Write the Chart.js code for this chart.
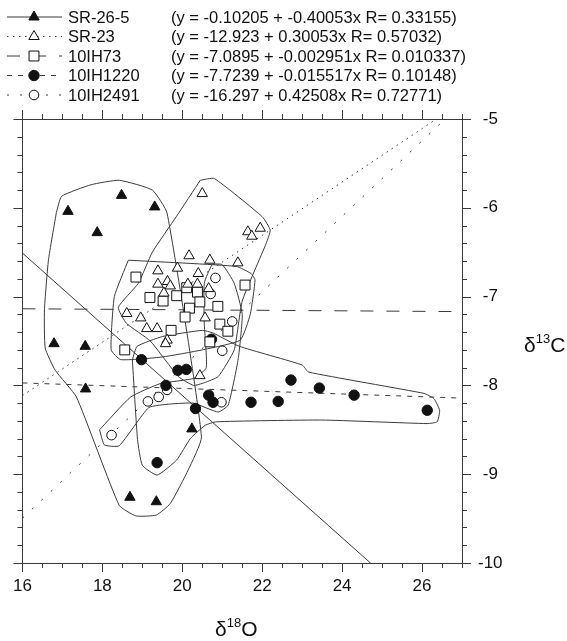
<!DOCTYPE html>
<html>
<head>
<meta charset="utf-8">
<script src="https://cdn.jsdelivr.net/npm/chart.js@4/dist/chart.umd.min.js"></script>
<style>
  html, body { margin: 0; padding: 0; background: #fff; }
  #plot { display: block; }
</style>
</head>
<body>
<canvas id="plot" width="567" height="641"></canvas>
<script>
// --- Data (x = d18O, y = d13C) ---
const seriesNames = ["SR-26-5", "SR-23", "10IH73", "10IH1220", "10IH2491"];
const equations = [
    "(y = -0.10205 + -0.40053x R= 0.33155)",
    "(y = -12.923 + 0.30053x R= 0.57032)",
    "(y = -7.0895 + -0.002951x R= 0.010337)",
    "(y = -7.7239 + -0.015517x R= 0.10148)",
    "(y = -16.297 + 0.42508x R= 0.72771)"
];

const sr265X = [17.14, 18.48, 19.31, 17.87, 16.79, 17.57, 17.58, 20.24, 18.69, 19.35];
const sr265Y = [-6.04, -5.86, -5.99, -6.28, -7.53, -7.56, -8.04, -8.49, -9.26, -9.31];

const sr23X = [20.50, 21.64, 21.74, 21.95, 20.17, 20.69, 21.39, 19.39, 19.88, 20.40, 19.39, 19.63, 19.70,
               20.14, 20.38, 20.66, 19.54, 18.61, 18.96, 19.11, 19.37, 20.57, 19.62, 19.58, 20.44];
const sr23Y = [-5.84, -6.27, -6.32, -6.23, -6.54, -6.59, -6.62, -6.71, -6.68, -6.74, -6.86, -6.83, -6.88,
               -6.86, -6.86, -6.91, -6.96, -7.19, -7.24, -7.36, -7.36, -7.24, -7.49, -7.53, -7.89];

const ih73X = [18.84, 21.57, 20.11, 19.19, 19.52, 19.86, 20.38, 20.44, 20.18, 20.89, 20.07, 20.94, 21.14, 19.72, 20.69, 18.56];
const ih73Y = [-6.78, -6.87, -6.90, -7.01, -7.05, -6.99, -6.95, -7.06, -7.13, -7.11, -7.23, -7.31, -7.39, -7.38, -7.51, -7.60];

const ih1220X = [20.73, 18.98, 19.89, 20.10, 19.59, 20.66, 20.77, 20.33, 21.72, 22.40, 22.72, 23.43, 24.30, 26.13, 19.37];
const ih1220Y = [-7.48, -7.71, -7.83, -7.82, -8.00, -8.11, -8.19, -8.26, -8.19, -8.18, -7.94, -8.03, -8.11, -8.28, -8.87];

const ih2491X = [20.83, 20.71, 21.25, 21.00, 19.62, 19.41, 19.14, 20.98, 18.23];
const ih2491Y = [-6.79, -6.97, -7.28, -7.61, -8.05, -8.13, -8.18, -8.19, -8.56];

// fitted lines, end points as drawn
const fitSR265 = [[16, -6.510], [24.71, -10]];
const fitSR23 = [[16, -8.115], [26.36, -5]];
const fitIH73 = [[16, -7.137], [27, -7.169]];
const fitIH1220 = [[16, -7.972], [27, -8.143]];
const fitIH2491 = [[16, -9.496], [26.58, -5]];

// hand drawn group outlines
const hullSR265 = [[16.85, -6.05], [16.98, -5.87], [17.72, -5.74], [18.42, -5.69], [19.25, -5.80], [19.62, -6.06],
    [20.48, -8.58], [20.15, -8.95], [19.70, -9.33], [19.35, -9.46], [18.84, -9.47], [18.42, -9.35], [17.35, -8.13],
    [16.82, -7.83], [16.57, -7.58], [16.55, -7.15], [16.65, -6.59], [16.85, -6.05]];
const hullSR23 = [[20.45, -5.69], [20.80, -5.67], [22.00, -6.10], [22.20, -6.25], [22.10, -6.40], [21.50, -7.05],
    [21.30, -7.60], [20.90, -7.90], [20.55, -7.97], [20.28, -8.00], [19.90, -7.90], [19.20, -7.50], [18.60, -7.30],
    [18.40, -7.12], [18.90, -6.85], [19.25, -6.50], [19.85, -6.10], [20.45, -5.69]];
const hullIH73 = [[18.65, -6.59], [21.35, -6.66], [21.72, -6.74], [21.82, -6.81], [21.70, -7.20], [21.45, -7.49],
    [20.50, -7.60], [19.50, -7.68], [18.46, -7.71], [18.22, -7.60], [18.30, -7.00], [18.65, -6.59]];
const hullIH1220 = [[18.75, -7.71], [18.87, -7.56], [19.50, -7.45], [20.50, -7.38], [20.77, -7.41], [21.43, -7.56],
    [23.00, -7.77], [23.16, -7.85], [26.05, -8.09], [26.30, -8.15], [26.44, -8.28], [26.38, -8.41], [26.13, -8.43],
    [23.49, -8.39], [20.85, -8.41], [20.57, -8.45], [20.20, -8.60], [19.86, -8.84], [19.37, -9.01], [19.00, -8.90],
    [18.88, -8.61], [18.75, -7.71]];
const hullIH2491 = [[17.93, -8.50], [18.05, -8.67], [18.42, -8.68], [19.16, -8.25], [19.70, -8.21], [20.28, -8.20],
    [20.90, -8.30], [21.15, -8.22], [21.40, -7.70], [21.50, -7.20], [21.30, -6.85], [21.00, -6.64], [20.75, -6.64],
    [20.55, -6.85], [20.55, -7.30], [20.60, -7.80], [20.30, -7.92], [19.45, -7.98], [18.71, -8.13], [17.93, -8.50]];

const xTicks = [16, 18, 20, 22, 24, 26];
const yTicks = [-10, -9, -8, -7, -6, -5];

// --- Styles ---
const FONT = "'Liberation Sans', Arial, sans-serif";
const INK = "#111";
const LINE = "#3a3a3a";

const markers = [
    {pointStyle: 'triangle', radius: 6, fill: INK},
    {pointStyle: 'triangle', radius: 6, fill: '#fff'},
    {pointStyle: 'rect', radius: 7, fill: '#fff'},
    {pointStyle: 'circle', radius: 5.2, fill: INK},
    {pointStyle: 'circle', radius: 4.8, fill: '#fff'}
];
const dashes = [[], [1.5, 4.5], [13, 13], [5, 6], [2, 11]];

function toPoints(xs, ys){
    return xs.map((x, i) => ({x: x, y: ys[i]}));
}
function pairs(list){
    return list.map(p => ({x: p[0], y: p[1]}));
}

const pointSets = [
    toPoints(sr265X, sr265Y), toPoints(sr23X, sr23Y), toPoints(ih73X, ih73Y),
    toPoints(ih1220X, ih1220Y), toPoints(ih2491X, ih2491Y)
];
const fits = [fitSR265, fitSR23, fitIH73, fitIH1220, fitIH2491];
const hulls = [hullSR265, hullSR23, hullIH73, hullIH1220, hullIH2491];

let datasets = [];
pointSets.forEach((pts, i) => {
    datasets.push({
        label: seriesNames[i], data: pts, showLine: false,
        pointStyle: markers[i].pointStyle, pointRadius: markers[i].radius,
        backgroundColor: markers[i].fill, borderColor: INK, borderWidth: 1
    });
});
fits.forEach((f, i) => {
    datasets.push({
        label: seriesNames[i] + " fit", data: pairs(f), showLine: true, pointRadius: 0,
        borderColor: LINE, borderWidth: 1, borderDash: dashes[i], fill: false
    });
});
hulls.forEach((h, i) => {
    datasets.push({
        label: seriesNames[i] + " outline", data: pairs(h), showLine: true, pointRadius: 0,
        borderColor: LINE, borderWidth: 1, fill: false, tension: 0.15
    });
});

// --- Box, ticks on all four sides, axis titles and legend ---
const framePlugin = {
    id: 'frame',
    afterDraw(chart){
        const ctx = chart.ctx;
        const a = chart.chartArea;
        const xs = chart.scales.x, ys = chart.scales.y;
        ctx.save();
        ctx.strokeStyle = LINE;
        ctx.lineWidth = 1;
        ctx.setLineDash([]);
        ctx.strokeRect(Math.round(a.left) + 0.5, Math.round(a.top) + 0.5,
            Math.round(a.right - a.left), Math.round(a.bottom - a.top));

        ctx.beginPath();
        for (let v = 16; v <= 27.001; v += 0.5){
            const major = xTicks.some(t => Math.abs(t - v) < 1e-6);
            const len = major ? 9 : 5;
            const px = Math.round(xs.getPixelForValue(v)) + 0.5;
            ctx.moveTo(px, a.bottom); ctx.lineTo(px, a.bottom + len);
            ctx.moveTo(px, a.top); ctx.lineTo(px, a.top - len);
        }
        for (let v = -10; v <= -4.999; v += 0.2){
            const major = yTicks.some(t => Math.abs(t - v) < 1e-6);
            const len = major ? 9 : 5;
            const py = Math.round(ys.getPixelForValue(v)) + 0.5;
            ctx.moveTo(a.left, py); ctx.lineTo(a.left - len, py);
            ctx.moveTo(a.right, py); ctx.lineTo(a.right + len, py);
        }
        ctx.stroke();

        // axis titles with superscripts
        ctx.fillStyle = INK;
        ctx.textBaseline = 'alphabetic';
        ctx.textAlign = 'left';
        function title(parts, x, y, centre){
            let w = 0;
            parts.forEach(p => { ctx.font = p.size + "px " + FONT; w += ctx.measureText(p.t).width; });
            let cx = centre ? x - w / 2 : x;
            parts.forEach(p => {
                ctx.font = p.size + "px " + FONT;
                ctx.fillText(p.t, cx, y - p.rise);
                cx += ctx.measureText(p.t).width;
            });
        }
        title([{t: "\u03b4", size: 21, rise: 0}, {t: "18", size: 13, rise: 9}, {t: "O", size: 21, rise: 0}],
            (a.left + a.right) / 2 - 6, 636, true);
        title([{t: "\u03b4", size: 21, rise: 0}, {t: "13", size: 13, rise: 9}, {t: "C", size: 21, rise: 0}],
            524, 352, false);

        // legend
        seriesNames.forEach((name, i) => {
            const y = 17 + i * 19.5;
            ctx.beginPath();
            ctx.setLineDash(dashes[i]);
            ctx.strokeStyle = LINE;
            ctx.moveTo(7, y); ctx.lineTo(62, y);
            ctx.stroke();
            ctx.setLineDash([]);
            ctx.fillStyle = markers[i].fill;
            ctx.strokeStyle = INK;
            ctx.lineWidth = 1;
            Chart.helpers.drawPoint(ctx, {pointStyle: markers[i].pointStyle, radius: markers[i].radius,
                rotation: 0, borderWidth: 1}, 34, y);
            ctx.fillStyle = INK;
            ctx.font = "16.5px " + FONT;
            ctx.textBaseline = 'middle';
            ctx.fillText(name, 68, y + 1);
            ctx.fillText(equations[i], 171, y + 1);
        });
        ctx.restore();
    }
};

let ctx = document.getElementById("plot").getContext("2d");
let plotChart = new Chart(ctx, {
    type: 'scatter',
    data: {datasets: datasets},
    options: {
        responsive: false,
        animation: false,
        devicePixelRatio: 1,
        layout: {padding: {left: 17, top: 119, right: 0, bottom: 0}},
        plugins: {legend: {display: false}, tooltip: {enabled: false}},
        scales: {
            x: {
                type: 'linear', position: 'bottom', min: 16, max: 27,
                afterBuildTicks: s => { s.ticks = xTicks.map(v => ({value: v})); },
                afterFit: s => { s.height = 78; },
                grid: {display: false, drawTicks: false},
                border: {display: false},
                ticks: {font: {family: FONT, size: 17}, color: INK, padding: 13, maxRotation: 0, autoSkip: false}
            },
            y: {
                type: 'linear', position: 'right', min: -10, max: -5,
                afterBuildTicks: s => { s.ticks = yTicks.map(v => ({value: v})); },
                afterFit: s => { s.width = 105; },
                grid: {display: false, drawTicks: false},
                border: {display: false},
                ticks: {font: {family: FONT, size: 17}, color: INK, padding: 16, crossAlign: 'center', autoSkip: false}
            }
        }
    },
    plugins: [framePlugin]
});
</script>
</body>
</html>
